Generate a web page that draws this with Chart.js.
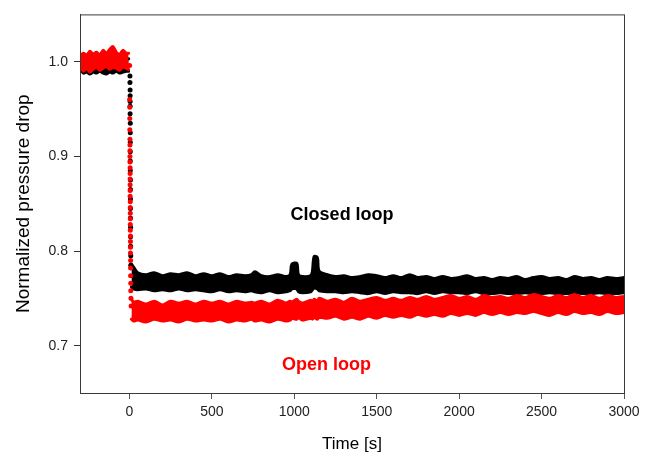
<!DOCTYPE html>
<html>
<head>
<meta charset="utf-8">
<title>Normalized pressure drop</title>
<script src="https://cdn.jsdelivr.net/npm/chart.js@4/dist/chart.umd.min.js"></script>
<style>
  html, body { margin: 0; padding: 0; background: #fff; }
  #wrap { width: 651px; height: 456px; }
</style>
</head>
<body>
<div id="wrap"><canvas id="chart" width="651" height="456"></canvas></div>
<script>
// ===================================================
// Data
// ===================================================

// before the step (t < 0): band edges
var tPre = [-300, -280, -260, -240, -220, -200, -180, -160, -140, -120, -100, -80, -60, -40, -20, -5];
var openPreTop = [1.006, 1.009, 1.007, 1.011, 1.008, 1.010, 1.007, 1.012, 1.009, 1.013, 1.016, 1.010, 1.008, 1.012, 1.009, 1.009];
var openPreBot = [0.996, 0.990, 0.993, 0.989, 0.992, 0.994, 0.991, 0.993, 0.995, 0.992, 0.994, 0.993, 0.991, 0.994, 0.993, 0.992];
var closedPreTop = [1.003, 1.004, 1.002, 1.005, 1.003, 1.004, 1.002, 1.005, 1.003, 1.004, 1.003, 1.002, 1.004, 1.003, 1.002, 1.003];
var closedPreBot = [0.994, 0.988, 0.989, 0.987, 0.989, 0.988, 0.990, 0.988, 0.987, 0.989, 0.988, 0.990, 0.988, 0.989, 0.990, 0.990];

// the drop itself (single samples)
var tDropOpen = [1, 1, 2, 2, 2, 3, 3, 3, 3, 3, 4, 4, 4, 4, 4, 4, 5, 5, 5, 5, 5, 5, 6, 6, 6, 6, 7, 7, 7, 8, 8, 9, 10];
var openDrop = [0.996, 0.960, 0.952, 0.940, 0.928, 0.918, 0.912, 0.906, 0.900, 0.894, 0.888, 0.882, 0.876, 0.870, 0.864, 0.858, 0.852, 0.846, 0.840, 0.834, 0.828, 0.822, 0.816, 0.810, 0.804, 0.798, 0.790, 0.782, 0.774, 0.766, 0.758, 0.750, 0.742];
var tDropClosed = [3, 3, 4, 4, 4, 4, 4, 5, 5, 5, 5, 5, 5, 6, 6, 6, 6, 6, 7, 7, 7, 8, 8];
var closedDrop = [0.985, 0.978, 0.970, 0.964, 0.958, 0.953, 0.945, 0.935, 0.925, 0.915, 0.905, 0.895, 0.885, 0.875, 0.865, 0.855, 0.845, 0.835, 0.825, 0.815, 0.805, 0.795, 0.785];

// after the step: band edges
var tPost = [12, 25, 50, 100, 150, 200, 250, 300, 350, 400, 450, 500, 550, 600, 650, 700, 740, 760, 800, 850,
  900, 950, 975, 985, 1015, 1025, 1050, 1100, 1110, 1120, 1140, 1150, 1200, 1250, 1300, 1350, 1400, 1450, 1500, 1550,
  1600, 1650, 1700, 1750, 1800, 1850, 1900, 1950, 2000, 2050, 2100, 2150, 2200, 2250, 2300, 2350, 2400, 2450, 2500, 2550,
  2600, 2650, 2700, 2750, 2800, 2850, 2900, 2950, 3000];
var closedPostTop = [0.786, 0.783, 0.777, 0.775, 0.777, 0.774, 0.776, 0.775, 0.777, 0.774, 0.776, 0.774, 0.776, 0.773, 0.775, 0.774, 0.775, 0.778, 0.774, 0.773,
  0.775, 0.773, 0.775, 0.786, 0.787, 0.775, 0.773, 0.774, 0.779, 0.794, 0.793, 0.779, 0.775, 0.773, 0.774, 0.772, 0.773, 0.775, 0.774, 0.772,
  0.774, 0.772, 0.775, 0.772, 0.773, 0.771, 0.773, 0.771, 0.772, 0.774, 0.771, 0.772, 0.770, 0.772, 0.771, 0.773, 0.770, 0.772, 0.773, 0.771,
  0.772, 0.770, 0.773, 0.771, 0.772, 0.770, 0.772, 0.771, 0.772];
var closedPostBot = [0.762, 0.760, 0.759, 0.760, 0.758, 0.759, 0.758, 0.760, 0.758, 0.759, 0.758, 0.757, 0.759, 0.757, 0.758, 0.757, 0.758, 0.757, 0.756, 0.758,
  0.756, 0.757, 0.758, 0.760, 0.760, 0.757, 0.756, 0.757, 0.759, 0.761, 0.760, 0.758, 0.757, 0.757, 0.756, 0.757, 0.756, 0.755, 0.757, 0.755,
  0.757, 0.756, 0.756, 0.755, 0.757, 0.755, 0.757, 0.756, 0.756, 0.755, 0.757, 0.755, 0.755, 0.756, 0.755, 0.755, 0.756, 0.755, 0.755, 0.756,
  0.755, 0.755, 0.756, 0.755, 0.755, 0.756, 0.755, 0.755, 0.756];
var openPostTop = [0.749, 0.746, 0.747, 0.744, 0.747, 0.743, 0.747, 0.745, 0.747, 0.744, 0.747, 0.745, 0.747, 0.744, 0.747, 0.745, 0.746, 0.745, 0.747, 0.744,
  0.748, 0.745, 0.747, 0.746, 0.749, 0.747, 0.745, 0.748, 0.746, 0.749, 0.747, 0.750, 0.747, 0.749, 0.746, 0.750, 0.747, 0.749, 0.751, 0.748,
  0.750, 0.748, 0.751, 0.749, 0.752, 0.749, 0.751, 0.753, 0.750, 0.752, 0.749, 0.753, 0.751, 0.752, 0.750, 0.753, 0.751, 0.754, 0.752, 0.750,
  0.753, 0.751, 0.754, 0.751, 0.753, 0.750, 0.753, 0.751, 0.752];
var openPostBot = [0.728, 0.726, 0.727, 0.725, 0.728, 0.726, 0.727, 0.725, 0.728, 0.726, 0.727, 0.726, 0.728, 0.725, 0.727, 0.726, 0.728, 0.726, 0.727, 0.725,
  0.728, 0.726, 0.727, 0.729, 0.728, 0.730, 0.727, 0.729, 0.728, 0.730, 0.728, 0.730, 0.729, 0.731, 0.728, 0.730, 0.728, 0.731, 0.729, 0.732,
  0.730, 0.732, 0.730, 0.733, 0.731, 0.733, 0.731, 0.734, 0.732, 0.734, 0.732, 0.735, 0.733, 0.735, 0.733, 0.735, 0.734, 0.736, 0.734, 0.732,
  0.735, 0.733, 0.736, 0.734, 0.735, 0.733, 0.736, 0.734, 0.735];

// axes
var xTicks = [0, 500, 1000, 1500, 2000, 2500, 3000];
var yTicks = [0.7, 0.8, 0.9, 1.0];

// in-plot labels: [text, time, value, colour]
var labels = [
  ['Closed loop', 1290, 0.838, '#000000'],
  ['Open loop', 1195, 0.680, '#ff0000']
];

// ===================================================
// Helpers
// ===================================================
var RED = '#ff0000';
var BLACK = '#000000';
var FONT = '"Liberation Sans", Arial, sans-serif';

function toPoints(xs, ys) {
  return xs.map(function(x, i) { return { x: x, y: ys[i] }; });
}

function bandEdge(xs, ys, color, fill, order) {
  return {
    data: toPoints(xs, ys),
    borderColor: color,
    backgroundColor: color,
    borderWidth: 3,
    borderJoinStyle: 'round',
    borderCapStyle: 'round',
    pointRadius: 0,
    tension: 0.3,
    fill: fill,
    order: order
  };
}

function dots(xs, ys, color, order) {
  return {
    data: toPoints(xs, ys),
    showLine: false,
    pointRadius: 2.5,
    pointBorderWidth: 0,
    pointBackgroundColor: color,
    borderColor: color,
    order: order
  };
}

// frame round the plot + free labels
var framePlugin = {
  id: 'frameAndLabels',
  afterDraw: function(chart) {
    var ctx = chart.ctx;
    var a = chart.chartArea;
    ctx.save();
    ctx.strokeStyle = '#3a3a3a';
    ctx.lineWidth = 1;
    ctx.strokeRect(a.left + 0.5, a.top + 0.5, a.right - a.left, a.bottom - a.top);

    ctx.font = 'bold 18px ' + FONT;
    ctx.textAlign = 'center';
    ctx.textBaseline = 'middle';
    labels.forEach(function(l) {
      ctx.fillStyle = l[3];
      ctx.fillText(l[0], chart.scales.x.getPixelForValue(l[1]), chart.scales.y.getPixelForValue(l[2]));
    });
    ctx.restore();
  }
};

// ===================================================
// Chart
// ===================================================
var ctx = document.getElementById('chart').getContext('2d');

new Chart(ctx, {
  type: 'line',
  data: {
    datasets: [
      bandEdge(tPre, openPreTop, RED, false, 1),
      bandEdge(tPre, openPreBot, RED, '-1', 1),
      bandEdge(tPost, openPostTop, RED, false, 1),
      bandEdge(tPost, openPostBot, RED, '-1', 1),
      dots(tDropOpen, openDrop, RED, 0),
      bandEdge(tPre, closedPreTop, BLACK, false, 3),
      bandEdge(tPre, closedPreBot, BLACK, '-1', 3),
      bandEdge(tPost, closedPostTop, BLACK, false, 3),
      bandEdge(tPost, closedPostBot, BLACK, '-1', 3),
      dots(tDropClosed, closedDrop, BLACK, 2)
    ]
  },
  options: {
    responsive: false,
    animation: false,
    layout: {
      padding: { left: 0, right: 27, top: 12, bottom: 0 }
    },
    plugins: {
      legend: { display: false },
      tooltip: { enabled: false }
    },
    scales: {
      x: {
        type: 'linear',
        min: -300,
        max: 3000,
        afterBuildTicks: function(scale) {
          scale.ticks = xTicks.map(function(v) { return { value: v }; });
        },
        afterFit: function(scale) { scale.height = 63; },
        border: { color: '#555555', width: 1 },
        grid: { drawOnChartArea: false, drawTicks: true, tickLength: 6, color: '#555555' },
        ticks: {
          padding: 5,
          color: '#222222',
          font: { family: FONT, size: 14 },
          maxRotation: 0,
          callback: function(v) { return String(v); }
        },
        title: {
          display: true,
          text: 'Time [s]',
          color: '#000000',
          font: { family: FONT, size: 17 },
          padding: { top: 0, bottom: 1 }
        }
      },
      y: {
        type: 'linear',
        min: 0.65,
        max: 1.05,
        afterBuildTicks: function(scale) {
          scale.ticks = yTicks.map(function(v) { return { value: v }; });
        },
        afterFit: function(scale) { scale.width = 80; },
        border: { color: '#333333', width: 1 },
        grid: { drawOnChartArea: false, drawTicks: true, tickLength: 6, color: '#333333' },
        ticks: {
          padding: 6,
          color: '#222222',
          font: { family: FONT, size: 14 },
          callback: function(v) { return Number(v).toFixed(1); }
        },
        title: {
          display: true,
          text: 'Normalized pressure drop',
          color: '#000000',
          font: { family: FONT, size: 19 },
          padding: { top: 12, bottom: 0 }
        }
      }
    }
  },
  plugins: [framePlugin]
});
</script>
</body>
</html>
